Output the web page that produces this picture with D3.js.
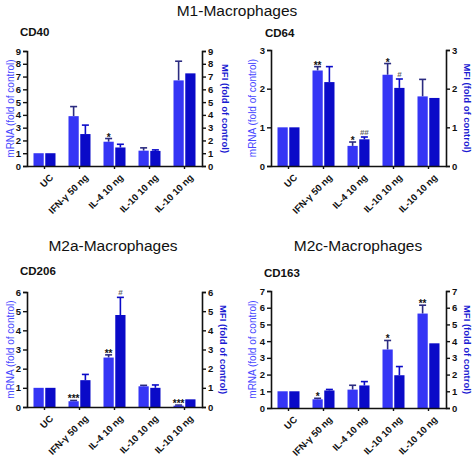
<!DOCTYPE html>
<html>
<head>
<meta charset="utf-8">
<script src="https://cdn.jsdelivr.net/npm/d3@7"></script>
<style>
  html, body { margin: 0; padding: 0; background: #fff; }
  svg { display: block; font-family: "Liberation Sans", Arial, sans-serif; }
</style>
</head>
<body>
<svg id="chart" width="474" height="457"></svg>
<script>
// ---------- DATA ----------
const categories = ["UC", "IFN-γ 50 ng", "IL-4 10 ng", "IL-10 10 ng", "IL-10 10 ng"];
const series = ["mRNA", "MFI"];

const cd40_mRNA     = [1, 3.9, 1.9, 1.2, 6.7];
const cd40_mRNA_err = [0, 0.75, 0.25, 0.22, 1.5];
const cd40_MFI      = [1, 2.5, 1.45, 1.18, 7.25];
const cd40_MFI_err  = [0, 0.7, 0.25, 0.08, 0];
const cd40_mRNA_sig = ["", "", "*", "", ""];
const cd40_MFI_sig  = ["", "", "", "", ""];

const cd64_mRNA     = [1, 2.47, 0.52, 2.36, 1.8];
const cd64_mRNA_err = [0, 0.1, 0.1, 0.29, 0.44];
const cd64_MFI      = [1, 2.17, 0.69, 2.02, 1.76];
const cd64_MFI_err  = [0, 0.4, 0.06, 0.23, 0];
const cd64_mRNA_sig = ["", "**", "*", "*", ""];
const cd64_MFI_sig  = ["", "", "##", "#", ""];

const cd206_mRNA     = [1, 0.3, 2.58, 1.08, 0.07];
const cd206_mRNA_err = [0, 0.04, 0.14, 0.05, 0.03];
const cd206_MFI      = [1, 1.4, 4.8, 1.0, 0.4];
const cd206_MFI_err  = [0, 0.3, 0.92, 0.15, 0];
const cd206_mRNA_sig = ["", "***", "**", "", "***"];
const cd206_MFI_sig  = ["", "", "#", "", ""];

const cd163_mRNA     = [1, 0.52, 1.1, 3.5, 5.65];
const cd163_mRNA_err = [0, 0.06, 0.26, 0.54, 0.5];
const cd163_MFI      = [1, 1.05, 1.35, 1.96, 3.87];
const cd163_MFI_err  = [0, 0.06, 0.23, 0.52, 0];
const cd163_mRNA_sig = ["", "*", "", "*", "**"];
const cd163_MFI_sig  = ["", "", "", "", ""];

const sectionTitles = ["M1-Macrophages", "M2a-Macrophages", "M2c-Macrophages"];
const leftLabel = "mRNA (fold of control)";
const rightLabel = "MFI (fold of control)";

// ---------- STYLE / LAYOUT ----------
const colLight = "#3535f5";
const colDark = "#0a0ac8";
const errLight = "#2b2b80";
const errDark = "#0a0ac8";
const labLight = "#4848ff";
const labDark = "#1a1ad2";

const panels = [
  { name: "CD40",  max: 9, left: 27,  right: 202, bottom: 166, top: 51,
    mRNA: cd40_mRNA, mErr: cd40_mRNA_err, MFI: cd40_MFI, fErr: cd40_MFI_err, mSig: cd40_mRNA_sig, fSig: cd40_MFI_sig,
    titleX: 20, titleY: 36, lLabX: 10, rLabX: 225 },
  { name: "CD64",  max: 3, left: 271, right: 446, bottom: 166, top: 50,
    mRNA: cd64_mRNA, mErr: cd64_mRNA_err, MFI: cd64_MFI, fErr: cd64_MFI_err, mSig: cd64_mRNA_sig, fSig: cd64_MFI_sig,
    titleX: 265, titleY: 37, lLabX: 252, rLabX: 467 },
  { name: "CD206", max: 6, left: 27,  right: 202, bottom: 407, top: 292,
    mRNA: cd206_mRNA, mErr: cd206_mRNA_err, MFI: cd206_MFI, fErr: cd206_MFI_err, mSig: cd206_mRNA_sig, fSig: cd206_MFI_sig,
    titleX: 20, titleY: 275, lLabX: 10, rLabX: 223 },
  { name: "CD163", max: 7, left: 271, right: 446, bottom: 408, top: 291,
    mRNA: cd163_mRNA, mErr: cd163_mRNA_err, MFI: cd163_MFI, fErr: cd163_MFI_err, mSig: cd163_mRNA_sig, fSig: cd163_MFI_sig,
    titleX: 264, titleY: 277, lLabX: 252, rLabX: 467 }
];

const svg = d3.select("#chart");

// Section titles
const titlePos = [[237, 16], [113, 251], [358, 251]];
svg.selectAll("text.section").data(sectionTitles).join("text")
  .attr("class", "section")
  .attr("x", (d, i) => titlePos[i][0])
  .attr("y", (d, i) => titlePos[i][1])
  .attr("text-anchor", "middle")
  .attr("font-size", 15.5)
  .attr("fill", "#111")
  .text(d => d);

panels.forEach(p => {
  const g = svg.append("g");
  const idx = d3.range(categories.length);
  const x = d3.scaleBand().domain(idx).range([p.left, p.right]).padding(0);
  const inner = d3.scaleBand().domain(series).range([x.bandwidth() / 2 - 11, x.bandwidth() / 2 + 11]).paddingInner(0.13);
  const y = d3.scaleLinear().domain([0, p.max]).range([p.bottom, p.top]);

  // panel title
  g.append("text").attr("x", p.titleX).attr("y", p.titleY)
    .attr("font-size", 11.5).attr("font-weight", "bold").attr("fill", "#111")
    .text(p.name);

  const rows = idx.map(i => ({ i, vals: [
    { s: "mRNA", v: p.mRNA[i], e: p.mErr[i], sig: p.mSig[i] },
    { s: "MFI",  v: p.MFI[i],  e: p.fErr[i], sig: p.fSig[i] }
  ]}));

  const grp = g.selectAll("g.grp").data(rows).join("g")
    .attr("class", "grp")
    .attr("transform", d => `translate(${x(d.i)},0)`);

  // error bars (drawn first so bar covers the lower part)
  const cx = d => inner(d.s) + inner.bandwidth() / 2;
  const eb = grp.selectAll("g.err").data(d => d.vals.filter(v => v.e > 0)).join("g").attr("class", "err");
  eb.append("line")
    .attr("x1", cx).attr("x2", cx)
    .attr("y1", d => y(d.v))
    .attr("y2", d => y(d.v + d.e))
    .attr("stroke", d => d.s === "mRNA" ? errLight : errDark)
    .attr("stroke-width", 1.6);
  eb.append("line")
    .attr("x1", d => cx(d) - 3.5)
    .attr("x2", d => cx(d) + 3.5)
    .attr("y1", d => y(d.v + d.e))
    .attr("y2", d => y(d.v + d.e))
    .attr("stroke", d => d.s === "mRNA" ? errLight : errDark)
    .attr("stroke-width", 1.6);

  grp.selectAll("rect").data(d => d.vals).join("rect")
    .attr("x", d => inner(d.s))
    .attr("width", inner.bandwidth())
    .attr("y", d => y(d.v))
    .attr("height", d => y(0) - y(d.v))
    .attr("fill", d => d.s === "mRNA" ? colLight : colDark);

  // significance marks
  grp.selectAll("text.sig").data(d => d.vals.filter(v => v.sig)).join("text")
    .attr("class", "sig")
    .attr("x", cx)
    .attr("y", d => y(d.v + d.e) - (d.sig[0] === "#" ? 2.5 : -2))
    .attr("text-anchor", "middle")
    .attr("font-size", d => d.sig[0] === "#" ? 8 : 10)
    .attr("font-weight", "bold")
    .attr("fill", d => d.sig[0] === "#" ? "#666" : "#111")
    .text(d => d.sig);

  // axes
  const yl = g.append("g").attr("transform", `translate(${p.left},0)`)
    .call(d3.axisLeft(y).ticks(p.max).tickSize(4).tickPadding(2).tickFormat(d3.format("d")));
  const yr = g.append("g").attr("transform", `translate(${p.right},0)`)
    .call(d3.axisRight(y).ticks(p.max).tickSize(4).tickPadding(2).tickFormat(d3.format("d")));
  const xa = g.append("g").attr("transform", `translate(0,${p.bottom})`)
    .call(d3.axisBottom(x).tickSize(3).tickSizeOuter(0).tickFormat(i => categories[i]));

  [yl, yr, xa].forEach(a => {
    a.select(".domain").attr("stroke", "#111").attr("stroke-width", 1.6);
    a.selectAll(".tick line").attr("stroke", "#111").attr("stroke-width", 1.4);
    a.selectAll("text").attr("font-size", 9.5).attr("font-weight", "bold").attr("fill", "#111")
      .attr("font-family", "Liberation Sans, Arial, sans-serif");
  });
  xa.selectAll(".tick text")
    .attr("text-anchor", "end")
    .attr("dx", 0).attr("dy", 0)
    .attr("transform", "translate(5,8) rotate(-45)");

  // axis titles
  const midY = (p.top + p.bottom) / 2;
  g.append("text")
    .attr("transform", `translate(${p.lLabX},${midY}) rotate(-90)`)
    .attr("text-anchor", "middle").attr("dy", "0.35em")
    .attr("font-size", 10).attr("fill", labLight)
    .text(leftLabel);
  g.append("text")
    .attr("transform", `translate(${p.rLabX},${midY}) rotate(90)`)
    .attr("text-anchor", "middle").attr("dy", "0.35em")
    .attr("font-size", 9.5).attr("font-weight", "bold").attr("fill", labDark)
    .text(rightLabel);
});
</script>
</body>
</html>
